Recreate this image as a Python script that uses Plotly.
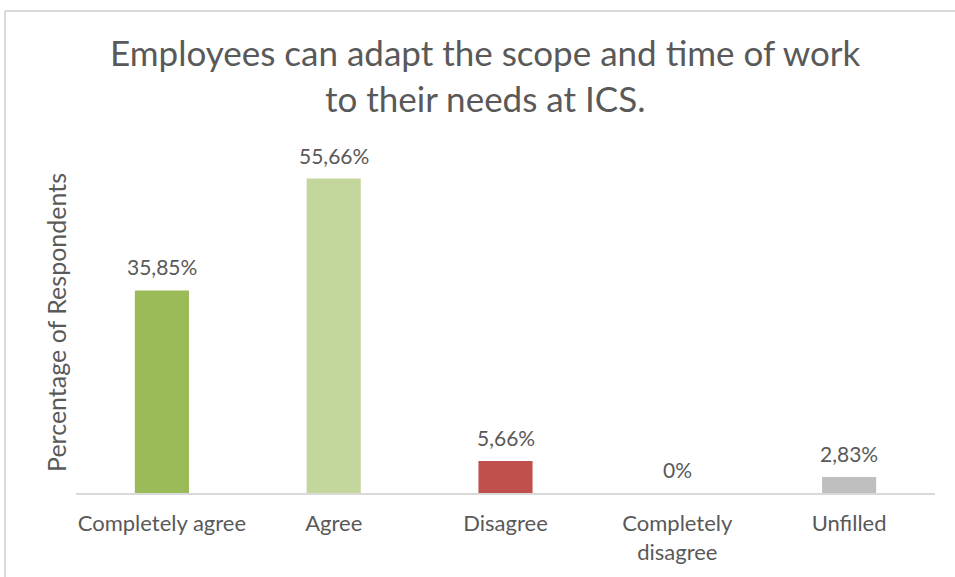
import plotly.graph_objects as go

categories = ["Completely agree", "Agree", "Disagree", "Completely<br>disagree", "Unfilled"]
values = [35.85, 55.66, 5.66, 0.0, 2.83]
labels = ["35,85%", "55,66%", "5,66%", "0%", "2,83%"]
colors = ["#9bbb59", "#c3d69b", "#c0504d", "#4f81bd", "#bfbfbf"]
title_text = "Employees can adapt the scope and time of work<br>to their needs at ICS."
y_title = "Percentage of Respondents"

text_color = "#595959"
font_family = "Lato, Open Sans, sans-serif"

fig = go.Figure()
fig.add_trace(go.Bar(
    x=categories,
    y=values,
    marker=dict(color=colors, line=dict(width=0)),
    width=0.315,
    hoverinfo="skip",
))

# value labels above each bar
for cat, val, lab in zip(categories, values, labels):
    fig.add_annotation(
        x=cat, y=val, xref="x", yref="y",
        text=lab, showarrow=False,
        yanchor="bottom", yshift=9,
        font=dict(size=21, color=text_color, family=font_family),
    )

# chart title
fig.add_annotation(
    xref="paper", yref="paper",
    x=0.477, y=1.233,
    xanchor="center", yanchor="middle",
    text=title_text, showarrow=False,
    font=dict(size=35, color=text_color, family=font_family),
)

# vertical axis title
fig.add_annotation(
    xref="paper", yref="paper",
    x=-0.0235, y=0.504,
    xanchor="center", yanchor="middle",
    text=y_title, textangle=-90,
    showarrow=False,
    font=dict(size=25, color=text_color, family=font_family),
)

# chart frame (top and left edges)
frame = dict(color="#d9d9d9", width=2)
fig.add_shape(type="line", xref="paper", yref="paper",
              x0=-0.0826, x1=1.05, y0=1.422, y1=1.422, line=frame)
fig.add_shape(type="line", xref="paper", yref="paper",
              x0=-0.0826, x1=-0.0826, y0=1.422, y1=-0.3, line=frame)

fig.update_layout(
    width=955, height=577,
    margin=dict(l=76, r=20, t=154, b=84),
    paper_bgcolor="white",
    plot_bgcolor="white",
    showlegend=False,
    font=dict(family=font_family, color=text_color),
    xaxis=dict(
        showline=True, linecolor="#d9d9d9", linewidth=2,
        ticks="", showgrid=False,
        tickfont=dict(size=22, color=text_color, family=font_family),
        ticklabelstandoff=10,
        fixedrange=True,
    ),
    yaxis=dict(
        range=[0, 60],
        showticklabels=False, showgrid=False, zeroline=False,
        showline=False, ticks="",
        fixedrange=True,
    ),
)

fig.write_html("out.html")
